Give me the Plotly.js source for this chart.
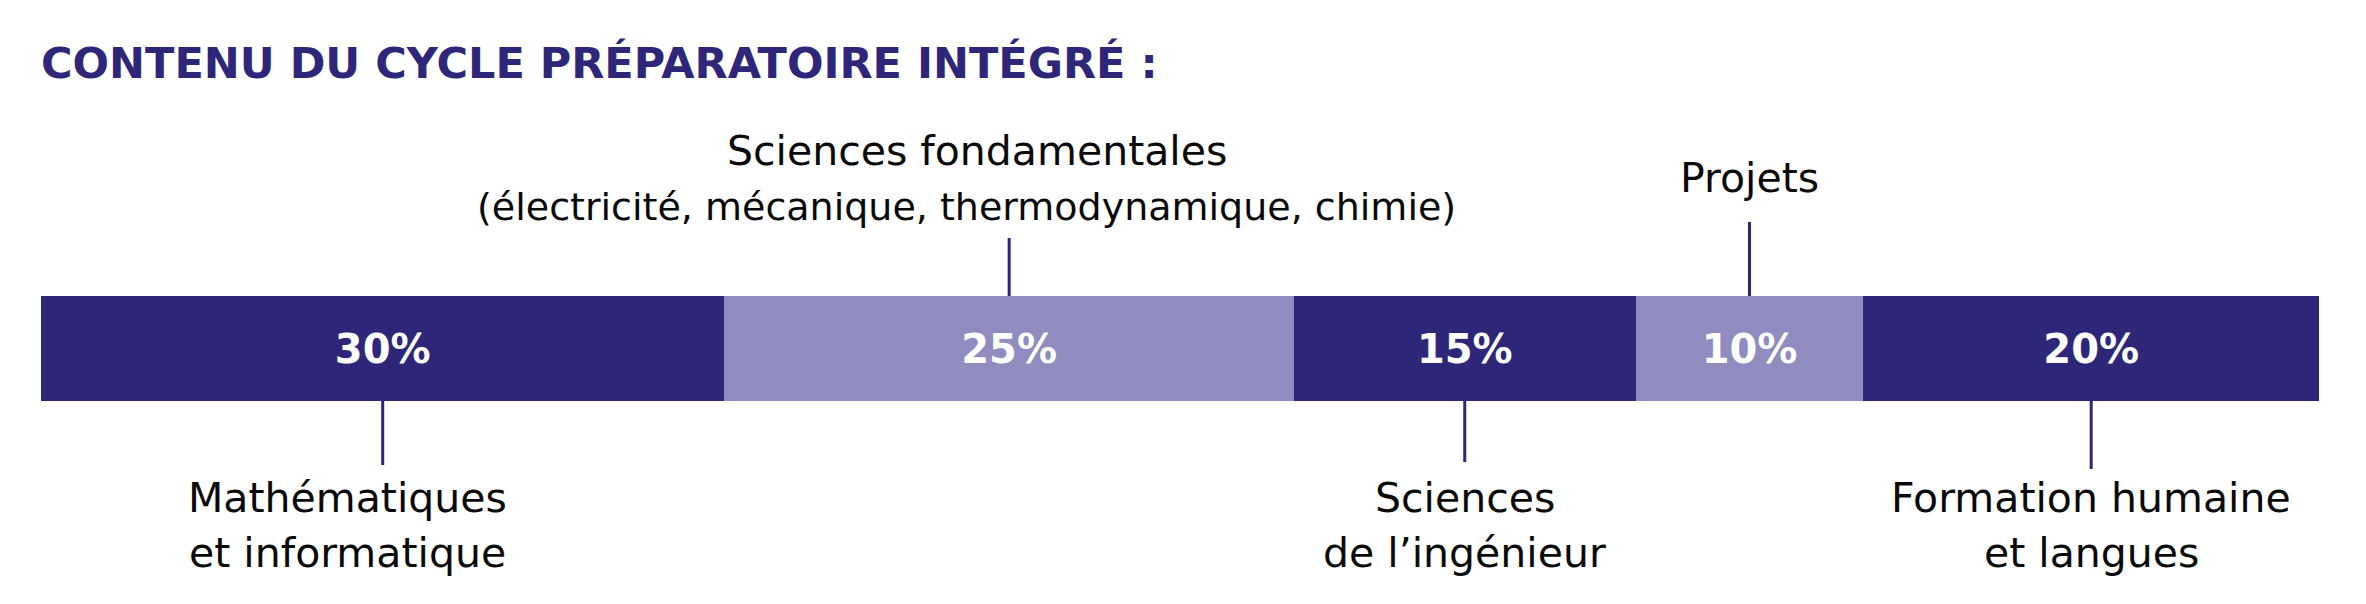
<!DOCTYPE html>
<html>
<head>
<meta charset="utf-8">
<script src="https://cdn.plot.ly/plotly-3.0.1.min.js"></script>
<style>html,body{margin:0;padding:0;background:#fff;}#chart{width:2366px;height:604px;}</style>
</head>
<body>
<div id="chart"></div>
<script>
// ---- data ----
const categories = [
  "Mathématiques<br>et informatique",
  "Sciences fondamentales<br>(électricité, mécanique, thermodynamique, chimie)",
  "Sciences<br>de l’ingénieur",
  "Projets",
  "Formation humaine<br>et langues"
];
const values = [30, 25, 15, 10, 20];
const valueLabels = ["30%", "25%", "15%", "10%", "20%"];
const colors = ["#2E2779", "#908CC0", "#2E2779", "#908CC0", "#2E2779"];
const titleText = "CONTENU DU CYCLE PRÉPARATOIRE INTÉGRÉ :";

// ---- layout helpers ----
const W = 2366, H = 604;
const barTop = 296, barBottom = 401;
const py = p => 1 - p / H; // pixel -> paper
// placement per segment: side, line end pixel, label line centres (px), x shifts and sizes per line
const place = [
  {side: "below", lineEnd: 465, lineY: [498, 553], xshift: [-35, -35], size: [41, 41]},
  {side: "above", lineEnd: 238, lineY: [151, 207], xshift: [-32, -43], size: [41, 38]},
  {side: "below", lineEnd: 462, lineY: [498, 553], xshift: [0, 0], size: [41, 41]},
  {side: "above", lineEnd: 222, lineY: [178], xshift: [0], size: [41]},
  {side: "below", lineEnd: 469, lineY: [498, 553], xshift: [0, 0], size: [41, 41]}
];

const traces = values.map((v, i) => ({
  type: "bar",
  orientation: "h",
  y: [0],
  x: [v],
  width: 1,
  marker: {color: colors[i], line: {width: 0}},
  text: [valueLabels[i]],
  textposition: "inside",
  insidetextanchor: "middle",
  textangle: 0,
  constraintext: "none",
  textfont: {family: "DejaVu Sans, sans-serif", size: 40, color: "#ffffff", weight: 700},
  hoverinfo: "skip",
  showlegend: false
}));

const shapes = [];
const annotations = [];
let cum = 0;
values.forEach((v, i) => {
  const c = cum + v / 2;
  cum += v;
  const p = place[i];
  const y0 = p.side === "below" ? barBottom : barTop;
  shapes.push({
    type: "line", xref: "x", yref: "paper",
    x0: c, x1: c, y0: py(y0), y1: py(p.lineEnd),
    line: {color: "#2E2779", width: 3}
  });
  categories[i].split("<br>").forEach((line, k) => {
    annotations.push({
      xref: "x", yref: "paper",
      x: c, y: py(p.lineY[k]), xshift: p.xshift[k],
      xanchor: "center", yanchor: "middle",
      text: line, showarrow: false, align: "center",
      font: {family: "DejaVu Sans, sans-serif", size: p.size[k], color: "#0a0a0a"}
    });
  });
});

const layout = {
  width: W, height: H,
  margin: {l: 41, r: 47, t: 0, b: 0, pad: 0},
  paper_bgcolor: "#ffffff", plot_bgcolor: "rgba(0,0,0,0)",
  barmode: "stack",
  bargap: 0,
  title: {
    text: titleText,
    x: 0, xref: "paper", xanchor: "left",
    y: py(63), yref: "container", yanchor: "middle",
    font: {family: "DejaVu Sans, sans-serif", size: 43, color: "#2E2779", weight: 700}
  },
  xaxis: {range: [0, 100], visible: false, fixedrange: true},
  yaxis: {domain: [py(barBottom), py(barTop)], range: [-0.5, 0.5], visible: false, fixedrange: true},
  shapes: shapes,
  annotations: annotations
};

Plotly.newPlot("chart", traces, layout, {displayModeBar: false, staticPlot: true});
</script>
</body>
</html>
